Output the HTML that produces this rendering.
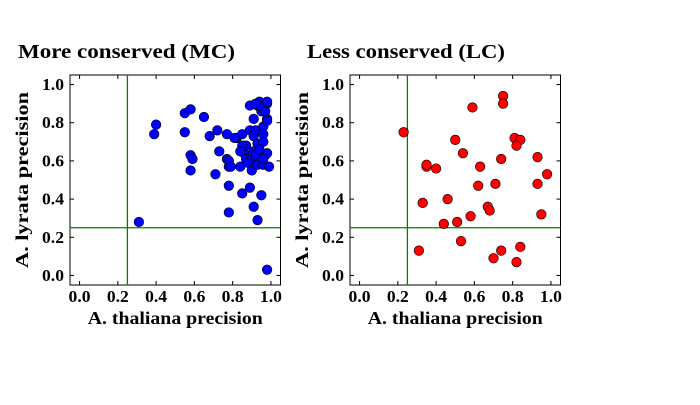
<!DOCTYPE html>
<html><head><meta charset="utf-8"><style>
body{margin:0;background:#fff}
svg text{font-family:"Liberation Serif","DejaVu Serif",serif;font-weight:bold;fill:#000}
</style></head><body>
<svg id="c" width="700" height="400" xmlns="http://www.w3.org/2000/svg"></svg>
<script>
const mcX=[.31,.39,.40,.55,.55,.58,.58,.59,.58,.65,.68,.72,.73,.71,.77,.77,.78,.78,.78,.78,.79,.82,.84,.85,.85,.86,.87,.87,.89,.89,.90,.90,.89,.91,.92,.91,.91,.93,.93,.93,.93,.94,.95,.95,.96,.96,.96,.96,.97,.98,.98,.98,.99,.98,.98,.93,.94,.92,.98,.97,.91,.88,.92,.96,.94,.85,.84,.81];
const mcY=[.28,.74,.79,.75,.85,.87,.63,.61,.55,.83,.73,.76,.65,.53,.74,.61,.57,.47,.33,.60,.57,.72,.57,.74,.43,.64,.61,.68,.46,.76,.55,.61,.89,.73,.76,.36,.82,.65,.69,.58,.29,.91,.86,.42,.78,.74,.70,.58,.63,.82,.81,.64,.57,.90,.03,.89,.89,.90,.91,.86,.65,.59,.63,.61,.66,.68,.65,.72];
const lcX=[.23,.31,.33,.35,.35,.40,.44,.46,.50,.51,.53,.54,.58,.59,.62,.63,.67,.68,.70,.71,.74,.74,.75,.75,.81,.84,.82,.82,.84,.93,.93,.95,.98];
const lcY=[.75,.13,.38,.57,.58,.56,.27,.40,.71,.28,.18,.64,.31,.88,.47,.57,.36,.34,.09,.48,.61,.13,.94,.90,.72,.71,.68,.07,.15,.62,.48,.32,.53];
const ticks=[0,0.2,0.4,0.6,0.8,1.0];
const tickLabels=["0.0","0.2","0.4","0.6","0.8","1.0"];
const thresh=0.25;
const svg=document.getElementById('c');
const NS='http://www.w3.org/2000/svg';
function mk(t,a,p){const e=document.createElementNS(NS,t);for(const k in a)e.setAttribute(k,a[k]);(p||svg).appendChild(e);return e;}
function panel(ox,tx,title,tw,xs,ys,color,nm){
  const L=70+ox,R=280.5+ox,T=75,B=285;
  const sx=v=>L+(v+0.05)/1.1*(R-L);
  const sy=v=>B-(v+0.05)/1.1*(B-T);
  const g=mk('g',{});
  
  
  const t=mk('text',{x:tx,y:58,'font-size':20,textLength:tw,lengthAdjust:'spacingAndGlyphs'},g);t.textContent=title;
  
  
  const f=mk('rect',{x:L,y:T,width:R-L,height:B-T,fill:'#fff',stroke:'#000','stroke-width':1},g);
  
  
  ticks.forEach((v,i)=>{
    const x=sx(v),y=sy(v);
    mk('line',{x1:x,x2:x,y1:B,y2:B-4,stroke:'#000'},g);
    mk('line',{x1:x,x2:x,y1:T,y2:T+4,stroke:'#000'},g);
    mk('line',{x1:L,x2:L+4,y1:y,y2:y,stroke:'#000'},g);
    mk('line',{x1:R,x2:R-4,y1:y,y2:y,stroke:'#000'},g);
    const xl=mk('text',{x:x,y:302,'font-size':17,'text-anchor':'middle',textLength:22,lengthAdjust:'spacingAndGlyphs'},g);xl.textContent=tickLabels[i];
    
    
    const yl=mk('text',{x:L-6,y:y+5.5,'font-size':17,'text-anchor':'end',textLength:22,lengthAdjust:'spacingAndGlyphs'},g);yl.textContent=tickLabels[i];
    
    
  });
  const vl=mk('line',{x1:sx(thresh),x2:sx(thresh),y1:T,y2:B,stroke:'#008000','stroke-width':1.3},g);
  
  
  const hl=mk('line',{x1:L,x2:R,y1:sy(thresh),y2:sy(thresh),stroke:'#008000','stroke-width':1.3},g);
  
  
  xs.forEach((v,i)=>{
    const c=mk('circle',{cx:sx(v),cy:sy(ys[i]),r:4.8,fill:color,stroke:'#000','stroke-width':0.6},g);
    
    
  });
  const xt=mk('text',{x:(L+R)/2,y:324,'font-size':18,'text-anchor':'middle',textLength:175,lengthAdjust:'spacingAndGlyphs'},g);xt.textContent='A. thaliana precision';
  
  
  const yt=mk('text',{x:0,y:0,'font-size':18,'text-anchor':'middle',textLength:176,lengthAdjust:'spacingAndGlyphs',transform:`translate(${28+ox},${sy(0.5)}) rotate(-90)`},g);yt.textContent='A. lyrata precision';
  
  
}
panel(0,18,'More conserved (MC)',217,mcX,mcY,'#0000ff','mc');
panel(280,307,'Less conserved (LC)',198,lcX,lcY,'#ff0000','lc');
</script>
</body></html>
